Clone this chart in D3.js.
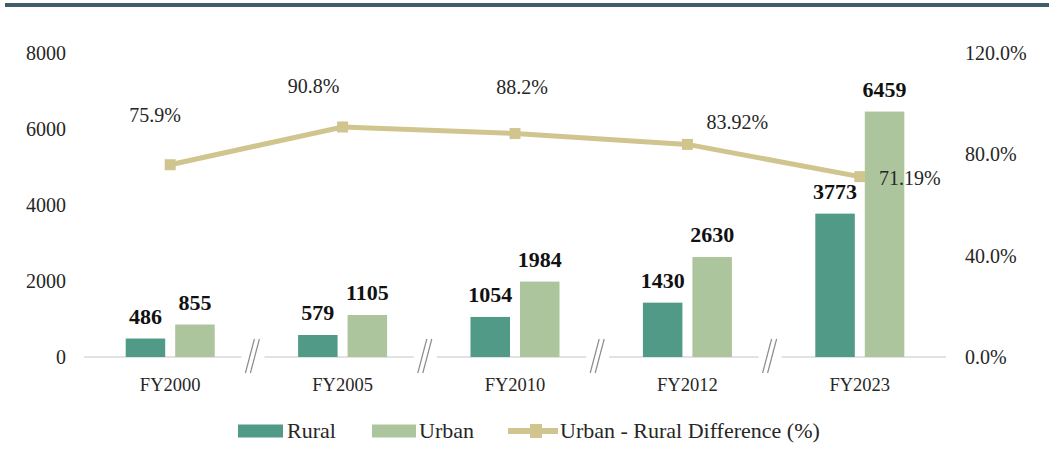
<!DOCTYPE html>
<html><head><meta charset="utf-8">
<script src="https://cdn.jsdelivr.net/npm/d3@7"></script>
<style>
html,body{margin:0;padding:0;background:#fff;}
svg{display:block;font-family:"Liberation Serif","DejaVu Serif",serif;}
</style></head>
<body>
<svg id="chart" width="1049" height="451"></svg>
<script>
const categories = ["FY2000","FY2005","FY2010","FY2012","FY2023"];
const rural = [486, 579, 1054, 1430, 3773];
const urban = [855, 1105, 1984, 2630, 6459];
const diffPct = [75.9, 90.8, 88.2, 83.92, 71.19];
const diffLabels = ["75.9%","90.8%","88.2%","83.92%","71.19%"];
const leftTicks = [0, 2000, 4000, 6000, 8000];
const rightTicks = [0, 40, 80, 120];
const seriesNames = ["Rural","Urban"];

// layout (not data)
const labelOffsets = [[-15,-50],[-29,-41],[7,-47],[50,-22],[50,1]];
const W = 1049, H = 451;
const colors = {Rural:"#519a88", Urban:"#acc59d", line:"#d0c58e", top:"#3e5f68", axis:"#d9d9d9", text:"#262626"};

const svg = d3.select("#chart");

// top bar
svg.append("rect").attr("x",5).attr("y",3).attr("width",W-5).attr("height",4).attr("fill",colors.top);

const x = d3.scaleBand().domain(categories).range([84, 946]).padding(0);
const yL = d3.scaleLinear().domain([0, 8000]).range([357, 53]);
const yR = d3.scaleLinear().domain([0, 120]).range([357, 53]);
const barW = 39.5, gap = 10;
const xs = d3.scaleOrdinal().domain(seriesNames).range([-gap/2 - barW, gap/2]);

// left axis
const axL = svg.append("g").attr("transform","translate(66,0)")
  .call(d3.axisLeft(yL).tickValues(leftTicks).tickSize(0).tickPadding(0).tickFormat(d3.format("d")));
axL.select(".domain").remove();
axL.selectAll("text").attr("font-size",20).attr("fill",colors.text).attr("font-family","Liberation Serif");

// right axis
const axR = svg.append("g").attr("transform","translate(965,0)")
  .call(d3.axisRight(yR).tickValues(rightTicks).tickSize(0).tickPadding(0).tickFormat(d => d.toFixed(1) + "%"));
axR.select(".domain").remove();
axR.selectAll("text").attr("font-size",20).attr("fill",colors.text).attr("font-family","Liberation Serif");

// baseline segments with breaks
const breaks = categories.slice(1).map(c => x(c) - 4);
const segs = [];
let start = x.range()[0];
breaks.forEach(b => { segs.push([start, b - 11]); start = b + 12; });
segs.push([start, x.range()[1]]);
svg.append("g").selectAll("line").data(segs).join("line")
  .attr("x1", d => d[0]).attr("x2", d => d[1])
  .attr("y1", yL(0)).attr("y2", yL(0))
  .attr("stroke", colors.axis).attr("stroke-width", 1.5);
const bk = svg.append("g");
breaks.forEach(b => {
  [-2.5, 2.5].forEach(o => {
    bk.append("line")
      .attr("x1", b + o + 4.5).attr("y1", yL(0) - 18)
      .attr("x2", b + o - 4.5).attr("y2", yL(0) + 16)
      .attr("stroke", "#8c8c8c").attr("stroke-width", 1.2);
  });
});

// bars
const groups = svg.append("g").selectAll("g").data(categories).join("g")
  .attr("transform", d => `translate(${x(d) + x.bandwidth()/2},0)`);
seriesNames.forEach(s => {
  const vals = s === "Rural" ? rural : urban;
  groups.append("rect")
    .attr("x", xs(s)).attr("width", barW)
    .attr("y", (d,i) => yL(vals[i]))
    .attr("height", (d,i) => yL(0) - yL(vals[i]))
    .attr("fill", colors[s]);
  groups.append("text")
    .attr("x", xs(s) + barW/2)
    .attr("y", (d,i) => yL(vals[i]) - 15)
    .attr("text-anchor","middle")
    .attr("font-size", 22).attr("font-weight","bold").attr("fill","#111")
    .text((d,i) => vals[i]);
});

// category labels
svg.append("g").selectAll("text").data(categories).join("text")
  .attr("x", d => x(d) + x.bandwidth()/2).attr("y", 391)
  .attr("text-anchor","middle").attr("font-size",18.5).attr("fill",colors.text)
  .text(d => d);

// line
const pts = categories.map((c,i) => [x(c) + x.bandwidth()/2, yR(diffPct[i])]);
svg.append("path").datum(pts)
  .attr("d", d3.line())
  .attr("fill","none").attr("stroke",colors.line).attr("stroke-width",5);
svg.append("g").selectAll("rect").data(pts).join("rect")
  .attr("x", d => d[0]-5.5).attr("y", d => d[1]-5.5)
  .attr("width",11).attr("height",11).attr("fill",colors.line);
svg.append("g").selectAll("text").data(pts).join("text")
  .attr("x", (d,i) => d[0] + labelOffsets[i][0])
  .attr("y", (d,i) => d[1] + labelOffsets[i][1] + 7)
  .attr("text-anchor","middle").attr("font-size",20).attr("fill",colors.text)
  .text((d,i) => diffLabels[i]);

// legend
const lg = svg.append("g");
const ly = 431;
lg.append("rect").attr("x",238).attr("y",ly-6.5).attr("width",45).attr("height",13).attr("fill",colors.Rural);
lg.append("text").attr("x",287).attr("y",ly+7).attr("font-size",22).attr("fill",colors.text).text("Rural");
lg.append("rect").attr("x",372).attr("y",ly-6.5).attr("width",44).attr("height",13).attr("fill",colors.Urban);
lg.append("text").attr("x",419).attr("y",ly+7).attr("font-size",22).attr("fill",colors.text).text("Urban");
lg.append("line").attr("x1",508).attr("x2",558).attr("y1",ly).attr("y2",ly).attr("stroke",colors.line).attr("stroke-width",6);
lg.append("rect").attr("x",530).attr("y",ly-7).attr("width",12).attr("height",14).attr("fill",colors.line);
lg.append("text").attr("x",560).attr("y",ly+7).attr("font-size",22).attr("fill",colors.text).text("Urban - Rural Difference (%)");
</script>
</body></html>
